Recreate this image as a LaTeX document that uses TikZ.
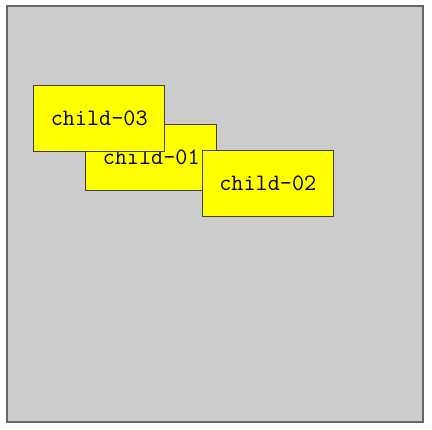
\documentclass[tikz,border=0pt]{standalone}
\usepackage{tikz}
\usetikzlibrary{positioning}
\definecolor{boxyellow}{RGB}{255,255,0}
\definecolor{backgray}{RGB}{204,204,204}

\begin{document}
\begin{tikzpicture}[x=1pt,y=-1pt,semithick]
  \tikzstyle{parent}=[draw=black!60,fill=backgray,line width=1.3pt,
                      minimum width=416pt,minimum height=416pt,inner sep=0pt]
  \tikzstyle{child}=[draw=black!75,fill=boxyellow,line width=0.9pt,
                     minimum width=131pt,minimum height=66pt,inner sep=0pt,
                     font=\ttfamily\fontsize{23.5}{24}\selectfont]

  \useasboundingbox (0,0) rectangle (432,430);

  \node[parent] (P)  at (215,214)      {};
  \node[child]  (C1) at (151.2,157.3)  {child-01};
  \node[child]  (C2) at (267.8,183)    {child-02};
  \node[child]  (C3) at (99.2,118.3)   {child-03};
\end{tikzpicture}
\end{document}
